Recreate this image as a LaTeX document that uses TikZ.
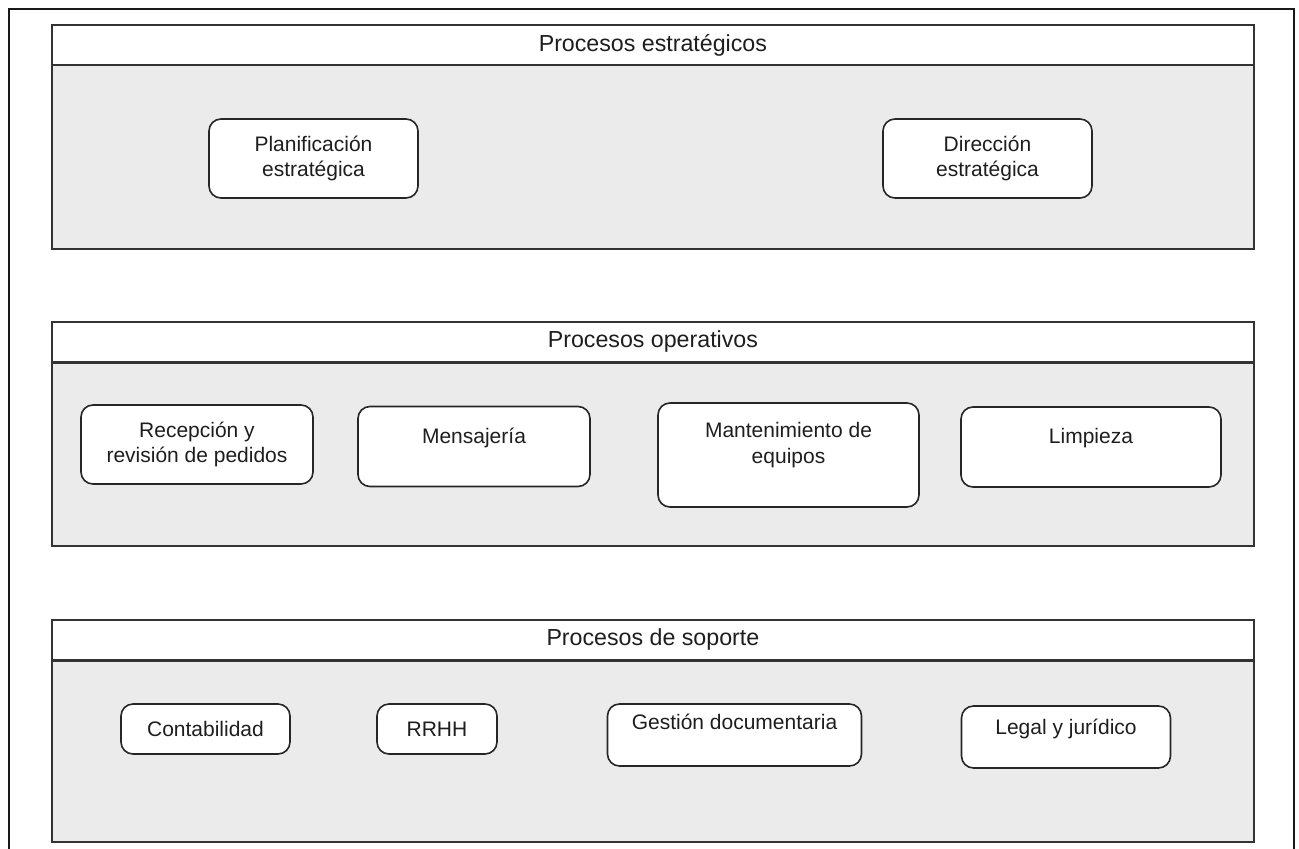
\documentclass[tikz,border=0pt]{standalone}
\usepackage{fontspec}
\setmainfont{Liberation Sans}
\usetikzlibrary{calc}
\definecolor{bodyfill}{HTML}{EBEBEB}
\definecolor{edgegray}{HTML}{333333}
\definecolor{inktext}{HTML}{1E1E1E}
\begin{document}
\begin{tikzpicture}[x=1pt,y=-1pt,
  outerframe/.style={draw=black!90, line width=2.2pt},
  band/.style={draw=edgegray, line width=1.8pt, fill=white, anchor=north west,
    minimum width=1202pt, minimum height=40pt, inner sep=0pt,
    font=\fontsize{23.2}{27}\selectfont, text=inktext},
  panel/.style={draw=edgegray, line width=1.8pt, fill=bodyfill, anchor=north west,
    minimum width=1202pt, inner sep=0pt},
  proc/.style={draw=black!85, line width=1.6pt, fill=white, rounded corners=12pt,
    inner sep=0pt, align=center, font=\fontsize{21}{25.5}\selectfont, text=inktext},
  lbl/.style={align=center, inner sep=0pt, font=\fontsize{21}{25.5}\selectfont, text=inktext},
]
\useasboundingbox (0,0) rectangle (1299,849);
\clip (0,0) rectangle (1299,849);

% outer frame (runs past the lower edge)
\draw[outerframe] (9,9) rectangle (1294,870);

% --- strategic processes ---
\node[panel, minimum height=184pt] (p1) at (51,64) {};
\node[band] (h1) at (51,24) {Procesos estratégicos};
\node[proc, minimum width=209pt, minimum height=79pt] (plan) at (313.5,158.5)
  {Planificación\\estratégica};
\node[proc, minimum width=209pt, minimum height=79pt] (dir) at (987.5,158.5)
  {Dirección\\estratégica};

% --- operational processes ---
\node[panel, minimum height=183pt] (p2) at (51,362) {};
\node[band] (h2) at (51,321) {Procesos operativos};
\node[proc, minimum width=232pt, minimum height=79pt] (rec) at (197,444.5)
  {Recepción y\\revisión de pedidos};
\node[proc, minimum width=232pt, minimum height=80pt] (mens) at (474,446.5) {};
\node[lbl, anchor=base] (mensT) at (474,443) {Mensajería};
\node[proc, minimum width=261pt, minimum height=104pt] (mant) at (788.5,455) {};
\node[lbl] (mantT) at (788.5,445) {Mantenimiento de\\equipos};
\node[proc, minimum width=260pt, minimum height=80pt] (limp) at (1091,447) {};
\node[lbl, anchor=base] (limpT) at (1091,443) {Limpieza};

% --- support processes ---
\node[panel, minimum height=181pt] (p3) at (51,660) {};
\node[band] (h3) at (51,619) {Procesos de soporte};
\node[proc, minimum width=169pt, minimum height=50pt] (cont) at (205.5,729) {Contabilidad};
\node[proc, minimum width=120pt, minimum height=50pt] (rrhh) at (437,729) {RRHH};
\node[proc, minimum width=254pt, minimum height=62pt] (gest) at (734.5,735) {};
\node[lbl, anchor=base] (gestT) at (734.5,729) {Gestión documentaria};
\node[proc, minimum width=209pt, minimum height=62pt] (legal) at (1066,737) {};
\node[lbl, anchor=base] (legalT) at (1066,734) {Legal y jurídico};
\end{tikzpicture}
\end{document}
